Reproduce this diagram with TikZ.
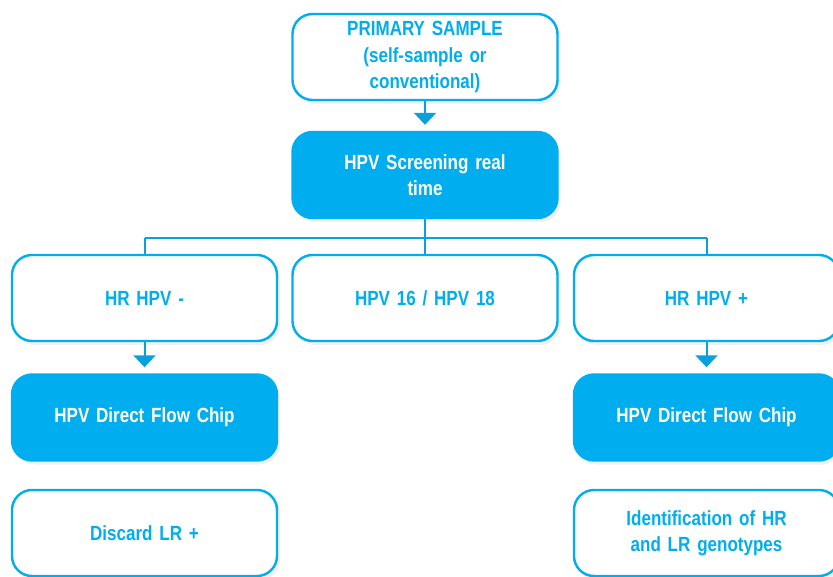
\documentclass[tikz,border=0pt]{standalone}
\usepackage{fontspec}
\setmainfont{Liberation Sans}[FakeStretch=0.83]
\usetikzlibrary{arrows.meta,shadows}
\definecolor{hpvblue}{HTML}{00AEEF}
\definecolor{hpvline}{HTML}{0AA0DC}
\newcommand{\hpvfont}{\bfseries\fontsize{20.5}{26.5}\selectfont\spaceskip=3.6pt plus 1pt\relax}

\begin{document}
\begin{tikzpicture}[x=1pt,y=1pt,
        box/.style={draw=hpvblue,line width=2.4pt,rounded corners=20pt,
            minimum width=265pt,minimum height=86pt,text width=240pt,align=center,
            font=\hpvfont,
            drop shadow={opacity=0.12,shadow xshift=3pt,shadow yshift=-4pt}},
        openbox/.style={box,fill=white,text=hpvblue},
        fullbox/.style={box,fill=hpvblue,text=white},
        link/.style={draw=hpvline,line width=2pt},
        flow/.style={link,-{Triangle[width=22pt,length=12pt]},shorten >=6pt}]
        \useasboundingbox (0,0) rectangle (833,-577);

        % Draw boxes at their centres
        \node[openbox] (sample) at (425,-57) {PRIMARY SAMPLE\\(self-sample or\\conventional)};
        \node[fullbox] (screen) at (425,-175) {HPV Screening real\\time};
        \node[openbox] (neg) at (144.5,-298) {HR HPV -};
        \node[openbox] (hpvtype) at (425,-298) {HPV 16 / HPV 18};
        \node[openbox] (pos) at (706.5,-298) {HR HPV +};
        \node[fullbox] (chipneg) at (144.5,-417.5) {HPV Direct Flow Chip};
        \node[fullbox] (chippos) at (706.5,-417.5) {HPV Direct Flow Chip};
        \node[openbox] (discard) at (144.5,-533) {Discard LR +};
        \node[openbox] (ident) at (706.5,-533) {Identification of HR\\and LR genotypes};

        % Draw connectors
        \draw[flow] (sample) -- (screen);
        \draw[link] (screen.south) -- ++(0,-19) coordinate (split);
        \draw[link] (split -| neg.north) -- (split -| pos.north);
        \draw[link] (split -| neg.north) -- (neg.north);
        \draw[link] (split) -- (hpvtype.north);
        \draw[link] (split -| pos.north) -- (pos.north);
        \draw[flow] (neg) -- (chipneg);
        \draw[flow] (pos) -- (chippos);

    \end{tikzpicture}
\end{document}
